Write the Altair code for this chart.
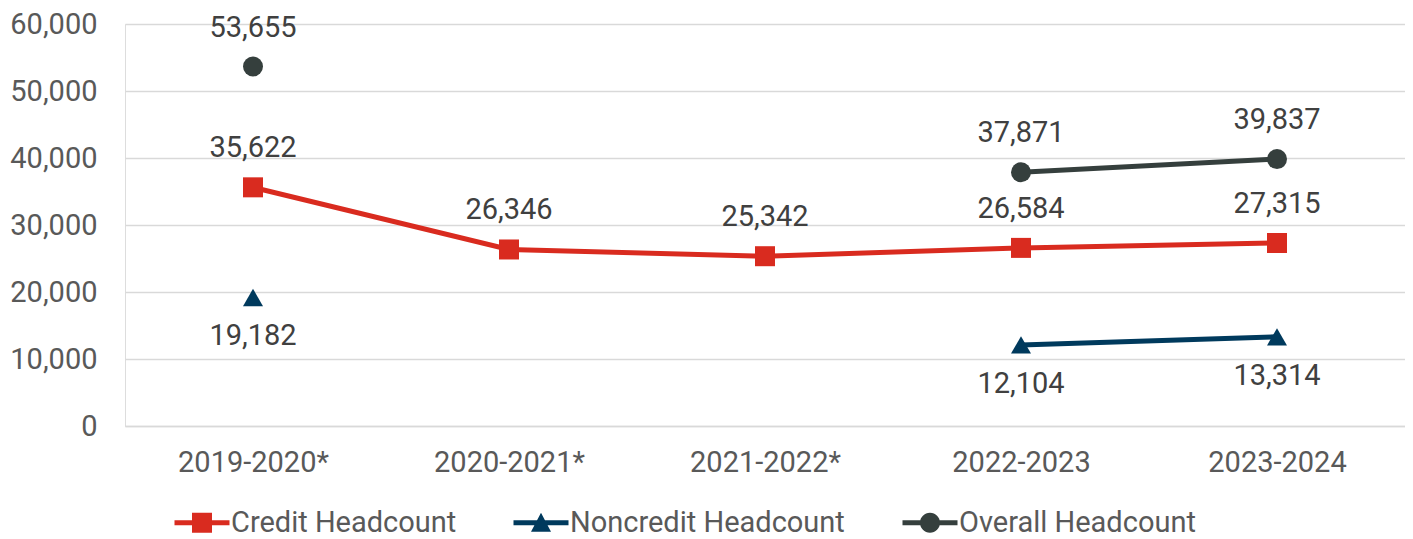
import altair as alt
import pandas as pd

years = ["2019-2020*", "2020-2021*", "2021-2022*", "2022-2023", "2023-2024"]
credit = [35622, 26346, 25342, 26584, 27315]
noncredit = [19182, None, None, 12104, 13314]
overall = [53655, None, None, 37871, 39837]
series_names = ["Credit Headcount", "Noncredit Headcount", "Overall Headcount"]
colors = ["#D92B1F", "#003A5D", "#353F3D"]
shapes = ["square", "triangle-up", "circle"]
# segment id per point so lines break where data is missing
segments = {
    "Credit Headcount": ["a", "a", "a", "a", "a"],
    "Noncredit Headcount": ["a", "x", "x", "b", "b"],
    "Overall Headcount": ["a", "x", "x", "b", "b"],
}

# legend symbols: line with marker (drawn wider than the symbol box)
legend_paths = [
    "M-2.75,-0.25H-1V-1H1V-0.25H2.75V0.25H1V1H-1V0.25H-2.75Z",
    "M-2.75,-0.25H2.75V0.25H-2.75Z M-1,0.9L0,-1L1,0.9Z",
    "M-2.75,-0.25H2.75V0.25H-2.75Z M-1,0A1,1 0 1,1 1,0A1,1 0 1,1 -1,0Z",
]

rows = []
for name, vals in zip(series_names, [credit, noncredit, overall]):
    for i, (yr, v) in enumerate(zip(years, vals)):
        if v is None:
            continue
        rows.append({"year": yr, "value": v, "series": name,
                     "seg": name + segments[name][i],
                     "pos": "below" if name == "Noncredit Headcount" else "above"})
df = pd.DataFrame(rows)

FONT = "Roboto"
FS = 29

x = alt.X("year:N", sort=years, title=None,
          scale=alt.Scale(paddingInner=0, paddingOuter=0.5),
          axis=alt.Axis(labelAngle=0, labelFontSize=FS, labelColor="#595959", labelFont=FONT,
                        ticks=False, domainColor="#D9D9D9", domainWidth=1.5, labelPadding=22,
                        grid=False))
y = alt.Y("value:Q", title=None,
          scale=alt.Scale(domain=[0, 60000], nice=False),
          axis=alt.Axis(values=[0, 10000, 20000, 30000, 40000, 50000, 60000], format=",.0f",
                        labelFontSize=FS, labelColor="#595959", labelFont=FONT,
                        ticks=False, domain=False, gridColor="#D9D9D9", gridWidth=1.5,
                        labelPadding=28))
color = alt.Color("series:N", sort=series_names,
                  scale=alt.Scale(domain=series_names, range=colors),
                  legend=alt.Legend(title=None, orient="none", direction="horizontal",
                                    legendX=62.5, legendY=484, labelFontSize=FS, labelFont=FONT,
                                    labelColor="#595959", symbolSize=400, symbolStrokeWidth=0,
                                    columnPadding=57, labelOffset=14.5, symbolOpacity=1,
                                    labelLimit=400, padding=0))
shape = alt.Shape("series:N", sort=series_names,
                  scale=alt.Scale(domain=series_names, range=legend_paths))

base = alt.Chart(df)
lines = base.mark_line(strokeWidth=5).encode(x=x, y=y, color=color, detail="seg:N")
point_layers = [
    base.transform_filter(alt.datum.series == name).mark_point(
        filled=True, size=400, opacity=1, shape=shp).encode(x=x, y=y, color=color)
    for name, shp in zip(series_names, shapes)
]
legend_layer = base.transform_filter("false").mark_point(filled=True, opacity=1).encode(
    x=x, y=y, color=color, shape=shape)
above = base.transform_filter(alt.datum.pos == "above").mark_text(
    dy=-39, fontSize=FS, font=FONT, color="#404040").encode(
    x=x, y=y, text=alt.Text("value:Q", format=","))
below = base.transform_filter(alt.datum.pos == "below").mark_text(
    dy=39, fontSize=FS, font=FONT, color="#404040").encode(
    x=x, y=y, text=alt.Text("value:Q", format=","))

chart = alt.layer(lines, *point_layers, legend_layer, above, below).properties(
    width=1280, height=402,
    autosize=alt.AutoSizeParams(type="none"),
    padding={"left": 117, "top": 16, "right": 0, "bottom": 116},
).configure_view(stroke=None).configure(background="white")

chart.save("out.html", embed_options={"renderer": "svg", "actions": False})
